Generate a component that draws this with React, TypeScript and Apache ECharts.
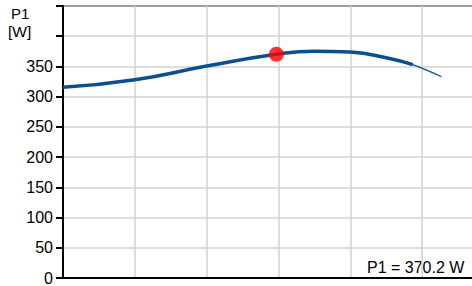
import React, { useEffect, useRef } from "react";
import * as echarts from "echarts";

// x positions in grid-units, P1 in W
const mainX = [0, 1, 2, 2.97, 3.5, 4, 4.5, 4.87];
const mainY = [315.5, 328, 350.6, 370.2, 375.3, 373.7, 364.5, 353];
const tailX = [4.87, 5.07, 5.27];
const tailY = [353, 343.5, 333];
const opX = [2.97];
const opY = [370.2];
const yTickLabels = ["0", "50", "100", "150", "200", "250", "300", "350", "", ""];
const annotation = "P1 = 370.2 W";

export default function App() {
  const ref = useRef<HTMLDivElement>(null);
  useEffect(() => {
    if (!ref.current) return;
    const chart = echarts.init(ref.current, undefined, { renderer: "svg" });
    const font = "Liberation Sans, Arial, sans-serif";
    chart.setOption({
      animation: false,
      grid: {
        left: 63,
        top: 6,
        bottom: 5,
        right: 0,
        show: true,
        borderColor: "#000",
        borderWidth: 2,
        backgroundColor: "transparent",
      },
      xAxis: {
        type: "value",
        min: 0,
        max: 6,
        interval: 1,
        axisLine: { show: true, lineStyle: { color: "#000", width: 2 } },
        axisTick: { show: false },
        axisLabel: { show: false },
        splitLine: { show: true, lineStyle: { color: "#d2d2d2", width: 1.5 } },
      },
      yAxis: {
        type: "value",
        min: 0,
        max: 450,
        interval: 50,
        axisLine: { show: true, lineStyle: { color: "#000", width: 2 } },
        axisTick: { show: true, length: 7, lineStyle: { color: "#000", width: 2 } },
        axisLabel: {
          color: "#000",
          fontSize: 16,
          fontFamily: font,
          margin: 10,
          formatter: (v: number) => yTickLabels[Math.round(v / 50)] ?? "",
        },
        splitLine: { show: true, lineStyle: { color: "#d2d2d2", width: 1.5 } },
      },
      graphic: [
        {
          type: "text",
          left: 11,
          top: 6,
          style: { text: "P1", fontSize: 15, fontFamily: font, fill: "#000" },
        },
        {
          type: "text",
          left: 8,
          top: 23,
          style: { text: "[W]", fontSize: 15.5, fontFamily: font, fill: "#000" },
        },
        {
          type: "text",
          left: 367,
          top: 259,
          style: { text: annotation, fontSize: 16, fontFamily: font, fill: "#000" },
        },
      ],
      series: [
        {
          type: "line",
          data: mainX.map((x, i) => [x, mainY[i]]),
          smooth: true,
          showSymbol: false,
          lineStyle: { color: "#0b4f8c", width: 3.5 },
          z: 3,
        },
        {
          type: "line",
          data: tailX.map((x, i) => [x, tailY[i]]),
          smooth: true,
          showSymbol: false,
          lineStyle: { color: "#0b4f8c", width: 1.2 },
          z: 3,
        },
        {
          type: "scatter",
          data: opX.map((x, i) => [x, opY[i]]),
          symbolSize: 15,
          itemStyle: { color: "#ff0000" },
          z: 5,
        },
      ],
    });
    return () => chart.dispose();
  }, []);
  return (
    <div
      style={{ position: "fixed", left: 0, top: 0, width: 472, height: 286, overflow: "hidden", background: "#fff" }}
    >
      <div ref={ref} style={{ width: 494, height: 286 }} />
    </div>
  );
}
